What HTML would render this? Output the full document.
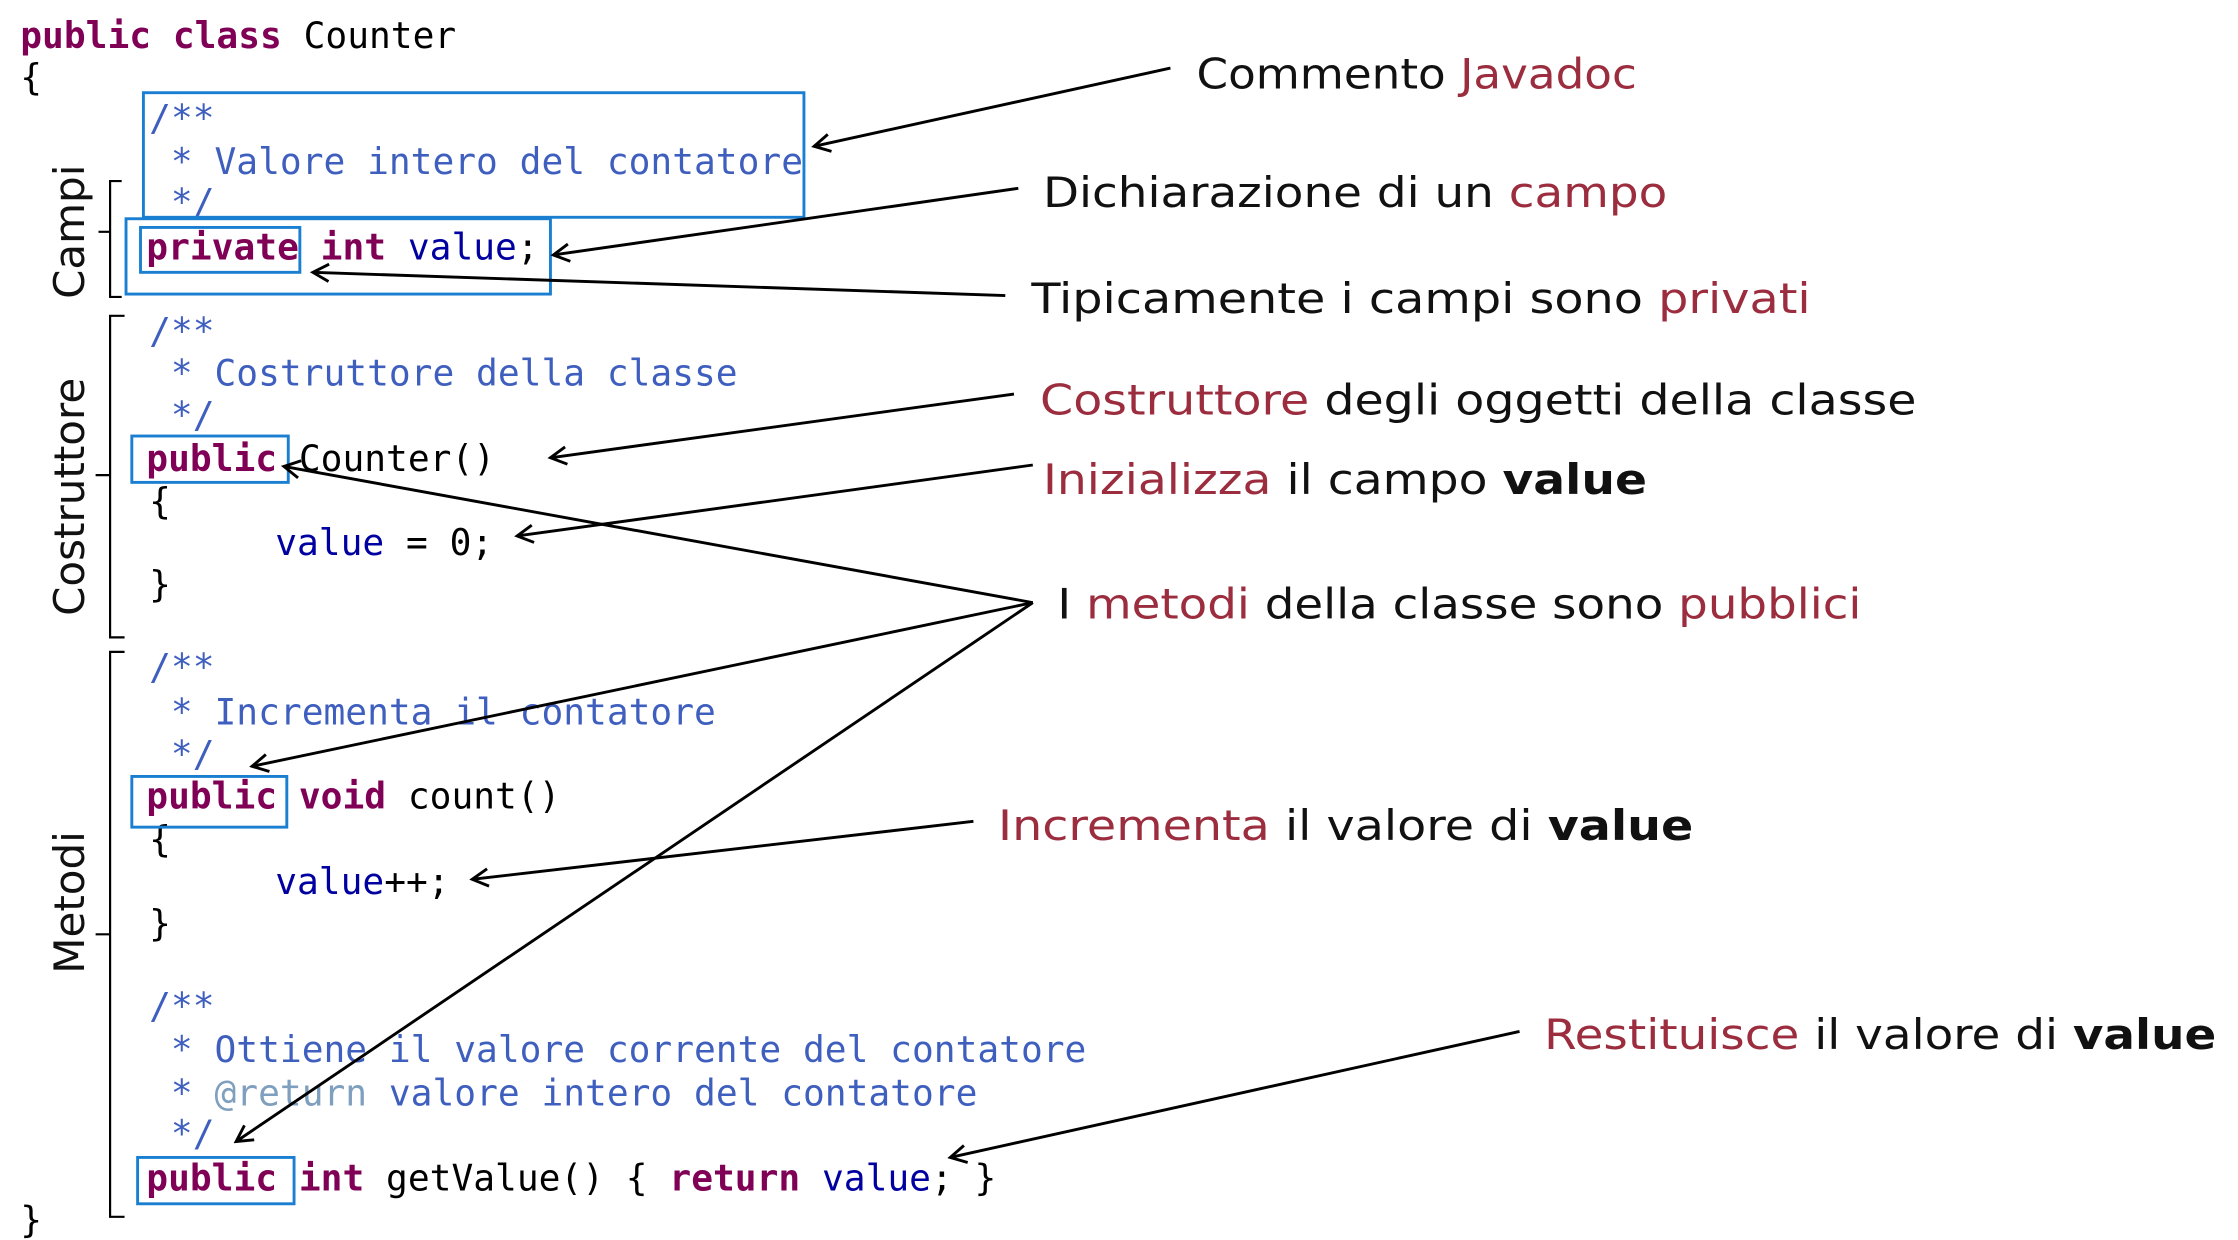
<!DOCTYPE html>
<html><head><meta charset="utf-8"><style>
html,body{margin:0;padding:0;background:#fff;width:2238px;height:1240px;overflow:hidden}
svg{display:block}
.c{font-family:"DejaVu Sans Mono","Liberation Mono",monospace;font-size:25px;white-space:pre}
.k{fill:#7f0055;font-weight:bold}
.f{fill:#0000a0}
.cm{fill:#3f5fbf}
.tg{fill:#7f9fbf}
.l{font-family:"DejaVu Sans","Liberation Sans",sans-serif;font-size:29px;fill:#111}
.r{fill:#9b2d3e}
.b{font-weight:bold}
.bx{fill:none;stroke:#1a7fd0;stroke-width:2}
.a{stroke:#000;stroke-width:2;fill:none}
</style></head><body>
<svg width="2238" height="1240" viewBox="0 0 1545 856" preserveAspectRatio="none" xmlns="http://www.w3.org/2000/svg">
<defs><marker id="m" markerWidth="14" markerHeight="14" refX="12" refY="7" orient="auto" markerUnits="userSpaceOnUse"><path d="M1,1 L12,7 L1,13" fill="none" stroke="#000" stroke-width="2"/></marker></defs>
<g class="c">
<text x="14" y="33"><tspan class="k">public class</tspan> Counter</text>
<text x="14" y="62">{</text>
<text x="103" y="90" class="cm">/**</text>
<text x="118" y="120" class="cm">* Valore intero del contatore</text>
<text x="118" y="148" class="cm">*/</text>
<text x="101" y="179"><tspan class="k">private int</tspan> <tspan class="f">value</tspan>;</text>
<text x="103" y="237" class="cm">/**</text>
<text x="118" y="266" class="cm">* Costruttore della classe</text>
<text x="118" y="295" class="cm">*/</text>
<text x="101" y="325"><tspan class="k">public</tspan> Counter()</text>
<text x="103" y="355">{</text>
<text x="190" y="383"><tspan class="f">value</tspan> = 0;</text>
<text x="103" y="412">}</text>
<text x="103" y="469" class="cm">/**</text>
<text x="118" y="500" class="cm">* Incrementa il contatore</text>
<text x="118" y="529" class="cm">*/</text>
<text x="101" y="558"><tspan class="k">public void</tspan> count()</text>
<text x="103" y="588">{</text>
<text x="190" y="617"><tspan class="f">value</tspan>++;</text>
<text x="103" y="646">}</text>
<text x="103" y="703" class="cm">/**</text>
<text x="118" y="733" class="cm">* Ottiene il valore corrente del contatore</text>
<text x="118" y="763" class="cm">* <tspan class="tg">@return</tspan> valore intero del contatore</text>
<text x="118" y="791" class="cm">*/</text>
<text x="101" y="822"><tspan class="k">public int</tspan> getValue() { <tspan class="k">return</tspan> <tspan class="f">value</tspan>; }</text>
<text x="14" y="851">}</text>
</g>
<line x1="15" y1="860" x2="753" y2="860" stroke="#ccc" stroke-width="2"/>
<rect class="bx" x="99" y="64" width="456" height="86"/>
<rect class="bx" x="87" y="151" width="293" height="52"/>
<rect class="bx" x="97" y="157" width="110" height="31"/>
<rect class="bx" x="91" y="301" width="108" height="32"/>
<rect class="bx" x="91" y="536" width="107" height="35"/>
<rect class="bx" x="95" y="799" width="108" height="32"/>
<g stroke="#000" stroke-width="1.5" fill="none">
<path d="M84,125 H76 V205 H84 M76,160 H68"/>
<path d="M86,218 H76 V440 H86 M76,328 H66"/>
<path d="M86,450 H76 V840 H86 M76,645 H66"/>
</g>
<g class="l">
<text transform="translate(58,160) rotate(-90)" text-anchor="middle">Campi</text>
<text transform="translate(58,343) rotate(-90)" text-anchor="middle">Costruttore</text>
<text transform="translate(58,623) rotate(-90)" text-anchor="middle">Metodi</text>
</g>
<g class="l">
<text x="826" y="61" textLength="304" lengthAdjust="spacingAndGlyphs">Commento <tspan class="r">Javadoc</tspan></text>
<text x="720" y="143" textLength="431" lengthAdjust="spacingAndGlyphs">Dichiarazione di un <tspan class="r">campo</tspan></text>
<text x="712" y="216" textLength="538" lengthAdjust="spacingAndGlyphs">Tipicamente i campi sono <tspan class="r">privati</tspan></text>
<text x="718" y="286" textLength="605" lengthAdjust="spacingAndGlyphs"><tspan class="r">Costruttore</tspan> degli oggetti della classe</text>
<text x="720" y="341" textLength="417" lengthAdjust="spacingAndGlyphs"><tspan class="r">Inizializza</tspan> il campo <tspan class="b">value</tspan></text>
<text x="730" y="427" textLength="555" lengthAdjust="spacingAndGlyphs">I <tspan class="r">metodi</tspan> della classe sono <tspan class="r">pubblici</tspan></text>
<text x="689" y="580" textLength="480" lengthAdjust="spacingAndGlyphs"><tspan class="r">Incrementa</tspan> il valore di <tspan class="b">value</tspan></text>
<text x="1066" y="724" textLength="464" lengthAdjust="spacingAndGlyphs"><tspan class="r">Restituisce</tspan> il valore di <tspan class="b">value</tspan></text>
</g>
<g class="a" marker-end="url(#m)">
<line x1="808" y1="47" x2="562" y2="101"/>
<line x1="703" y1="130" x2="382" y2="176"/>
<line x1="694" y1="204" x2="216" y2="188"/>
<line x1="700" y1="272" x2="380" y2="316"/>
<line x1="713" y1="321" x2="357" y2="370"/>
<line x1="713" y1="416" x2="196" y2="322"/>
<line x1="713" y1="416" x2="174" y2="529"/>
<line x1="713" y1="416" x2="163" y2="788"/>
<line x1="672" y1="567" x2="326" y2="607"/>
<line x1="1049" y1="712" x2="656" y2="799"/>
</g>
</svg>
</body></html>
